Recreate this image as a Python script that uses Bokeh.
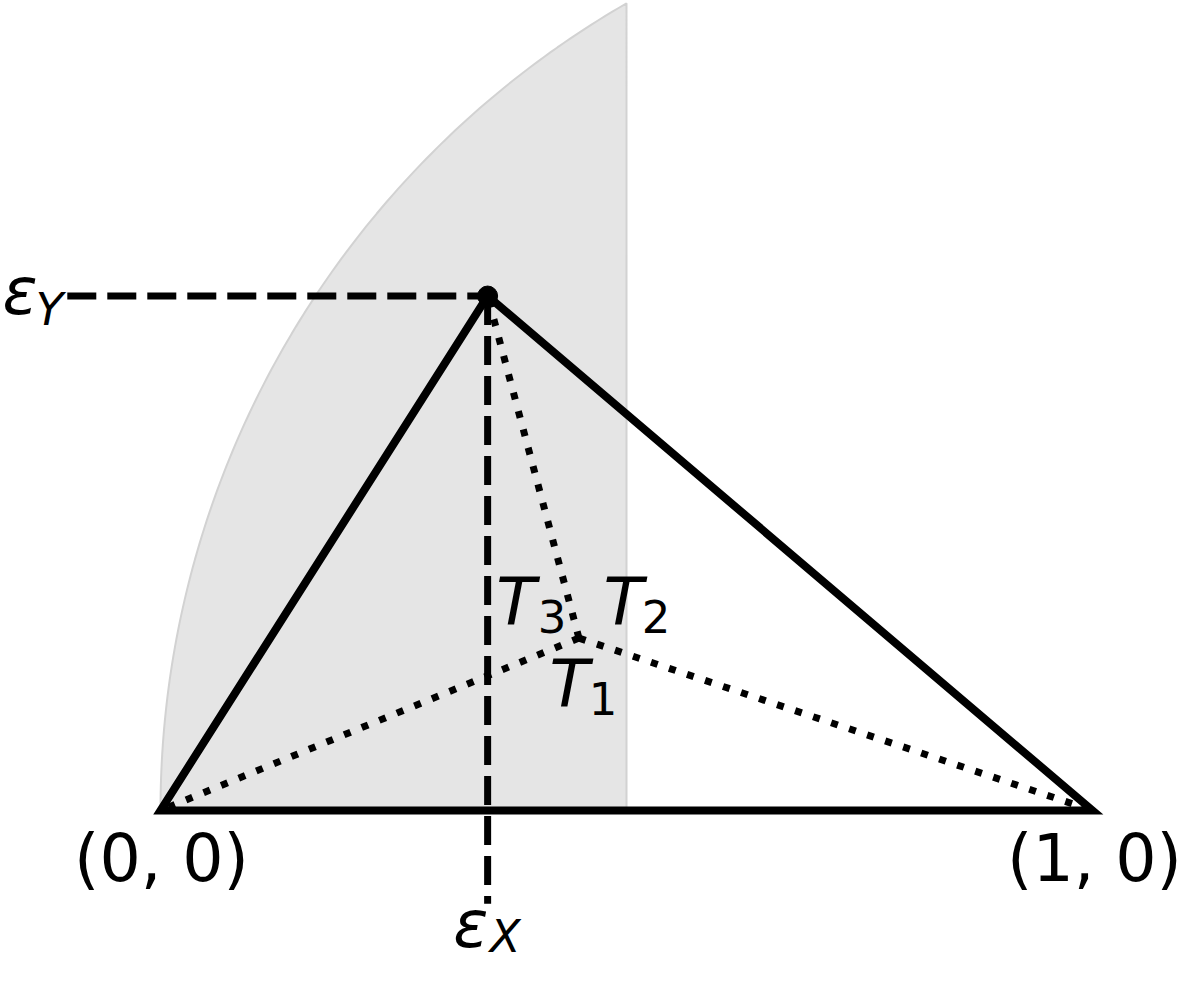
#!/usr/bin/env python

import numpy as np

from bokeh.plotting import figure
from bokeh.models import Range1d
from bokeh.core.properties import value
from bokeh.embed import file_html
from bokeh.resources import INLINE

# triangle corners: (0,0), (1,0) and the apex
vertex_x = [0.0, 1.0, 0.351]
vertex_y = [0.0, 0.0, 0.552]
corner_labels = ["(0, 0)", "(1, 0)"]

# the interior point joined to the three corners
inner_x = 0.449
inner_y = 0.185
inner_labels = ["T", "T", "T"]
inner_subs = ["3", "2", "1"]

# dashed guides run out to this value on both axes
guide_end = -0.1
guide_labels = ["\u03b5", "\u03b5"]
guide_subs = ["Y", "X"]

# shaded part of the unit disc round (1, 0), left of x = 0.5
arc_center = 1.0
arc_radius = 1.0
arc_cut = 0.5

FONT = value("DejaVu Sans")
SCALE = 932.0          # pixels per unit
K = SCALE / 948.0      # label offsets below were read at 948 px per unit


def px(vals):
    return [round(v * K, 1) for v in vals]


def main():
    x0 = -160 / SCALE
    y1 = 810 / SCALE
    p = figure(width=1184, height=965,
               x_range=Range1d(x0, x0 + 1184 / SCALE),
               y_range=Range1d(y1 - 965 / SCALE, y1),
               x_axis_location=None, y_axis_location=None,
               output_backend="svg", toolbar_location=None, min_border=0)
    p.grid.visible = False
    p.outline_line_color = None

    top = np.sqrt(arc_radius ** 2 - (arc_center - arc_cut) ** 2)
    theta = np.linspace(np.arctan2(top, arc_cut - arc_center), np.pi, 120)
    shade_x = [arc_cut] + list(arc_center + arc_radius * np.cos(theta))
    shade_y = [0.0] + list(arc_radius * np.sin(theta))
    p.patch(shade_x, shade_y, fill_color="#e5e5e5", line_color="#d2d2d2", line_width=2)

    apex_x, apex_y = vertex_x[2], vertex_y[2]

    # dashed guides to the axes
    p.line([guide_end, apex_x], [apex_y, apex_y], line_color="black",
           line_width=7, line_dash="29 11")
    p.line([apex_x, apex_x], [apex_y, guide_end], line_color="black",
           line_width=7, line_dash="29 11")

    # the triangle itself
    p.patch(vertex_x, vertex_y, fill_color=None, line_color="black",
            line_width=8, line_join="miter")

    # dotted lines from the inner point to each corner
    p.multi_line([[inner_x, vx] for vx in vertex_x],
                 [[inner_y, vy] for vy in vertex_y],
                 line_color="black", line_width=7, line_dash="7 12")

    p.scatter([apex_x], [apex_y], size=20, color="black")

    big = "65px"
    small = "45px"

    # corner labels
    p.text(x=vertex_x[:2], y=vertex_y[:2], text=corner_labels,
           x_offset=px([1, 2]), y_offset=px([49, 49]),
           text_font=FONT, text_font_size=big, text_align="center",
           text_baseline="alphabetic", text_color="black")

    # T labels round the inner point
    p.text(x=[inner_x] * 3, y=[inner_y] * 3, text=inner_labels,
           x_offset=px([-84, 25, -30]), y_offset=px([-36, -36, 47]),
           text_font=FONT, text_font_size=big, text_font_style="italic",
           text_align="left", text_baseline="alphabetic", text_color="black")
    p.text(x=[inner_x] * 3, y=[inner_y] * 3, text=inner_subs,
           x_offset=px([-42, 64, 10]), y_offset=px([-22, -22, 61]),
           text_font=FONT, text_font_size=small,
           text_align="left", text_baseline="alphabetic", text_color="black")

    # epsilon labels at the guide ends
    gx = [guide_end, apex_x]
    gy = [apex_y, guide_end]
    p.text(x=gx, y=gy, text=guide_labels,
           x_offset=px([-66, -35]), y_offset=px([-5, 21]),
           text_font=FONT, text_font_size=big, text_font_style="italic",
           text_align="left", text_baseline="alphabetic", text_color="black")
    p.text(x=gx, y=gy, text=guide_subs,
           x_offset=px([-32, 2]), y_offset=px([14, 33]),
           text_font=FONT, text_font_size=small, text_font_style="italic",
           text_align="left", text_baseline="alphabetic", text_color="black")

    open("out.html", "w").write(file_html(p, INLINE))


if __name__ == "__main__":
    main()
